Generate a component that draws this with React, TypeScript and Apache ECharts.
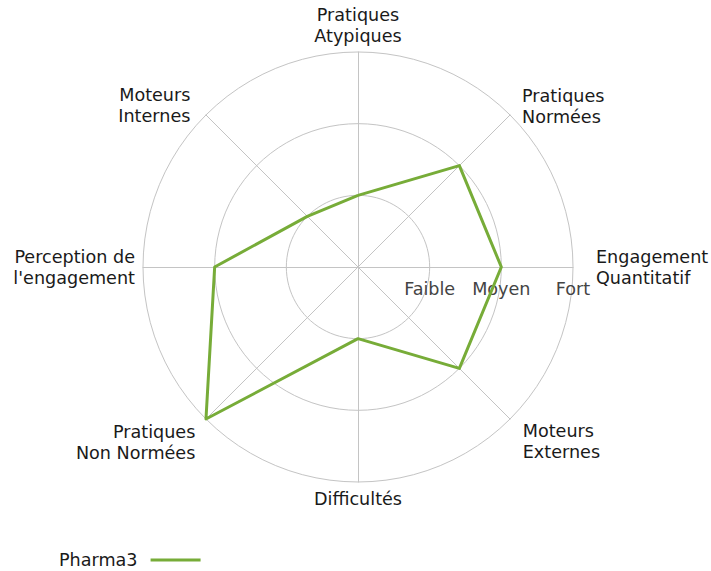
import React, { useEffect, useRef } from "react";
import * as echarts from "echarts";

const indicatorNames = [
  "Pratiques\nAtypiques",
  "Moteurs\nInternes",
  "Perception de\nl'engagement",
  "Pratiques\nNon Normées",
  "Difficultés",
  "Moteurs\nExternes",
  "Engagement\nQuantitatif",
  "Pratiques\nNormées",
];
const pharma3Values = [1, 1, 2, 3, 1, 2, 2, 2];
const levelLabels = ["", "Faible", "Moyen", "Fort"];
const seriesName = "Pharma3";
const maxLevel = 3;

const GREEN = "#77ac38";
const FONT = "DejaVu Sans";
const FS = 17.6;

export default function App() {
  const ref = useRef<HTMLDivElement>(null);
  useEffect(() => {
    if (!ref.current) return;
    const chart = echarts.init(ref.current, undefined, { renderer: "svg" });
    const gaps = [6, 22, 8, 15, 6, 18, 23, 17];
    // extra blank line height above the label (shifts a middle-aligned label down by half)
    const shift = [0, 12, 0, 26, 0, 20, 0, 8];
    const indicator = indicatorNames.map((name, i) => {
      const o: any = {
        name: shift[i] ? "{sp| }\n" + name : name,
        max: maxLevel,
        min: 0,
        nameGap: gaps[i],
        nameTextStyle: {
          color: "#1a1a1a",
          fontFamily: FONT,
          fontSize: FS,
          lineHeight: 21,
          rich: {
            sp: { fontSize: 1, lineHeight: shift[i] || 1 },
          },
        },
      };
      if (i === 6) {
        o.axisLabel = {
          show: true,
          color: "#444",
          fontFamily: FONT,
          fontSize: FS,
          margin: -22,
          verticalAlign: "middle",
          align: "center",
          formatter: (v: number) => levelLabels[Math.round(v)] ?? "",
        };
      }
      return o;
    });
    chart.setOption({
      animation: false,
      backgroundColor: "#fff",
      legend: {
        data: [{ name: seriesName, icon: "rect" }],
        left: 54,
        top: 546,
        align: "right",
        itemWidth: 50,
        itemHeight: 3,
        textStyle: {
          color: "#1a1a1a",
          fontFamily: FONT,
          fontSize: FS,
          padding: [0, 8, 0, 0],
        },
      },
      radar: {
        center: [358, 267],
        radius: 215,
        shape: "circle",
        splitNumber: 3,
        startAngle: 90,
        indicator,
        axisLine: { lineStyle: { color: "#c4c4c4", width: 1 } },
        splitLine: { lineStyle: { color: "#c4c4c4", width: 1 } },
        splitArea: { show: false },
        axisTick: { show: false },
        axisLabel: { show: false },
      },
      series: [
        {
          type: "radar",
          name: seriesName,
          symbol: "none",
          lineStyle: { color: GREEN, width: 3 },
          itemStyle: { color: GREEN },
          data: [{ name: seriesName, value: pharma3Values }],
        },
      ],
    });
    return () => chart.dispose();
  }, []);
  return (
    <div
      ref={ref}
      style={{ position: "fixed", left: 0, top: 0, width: 711, height: 571 }}
    />
  );
}
